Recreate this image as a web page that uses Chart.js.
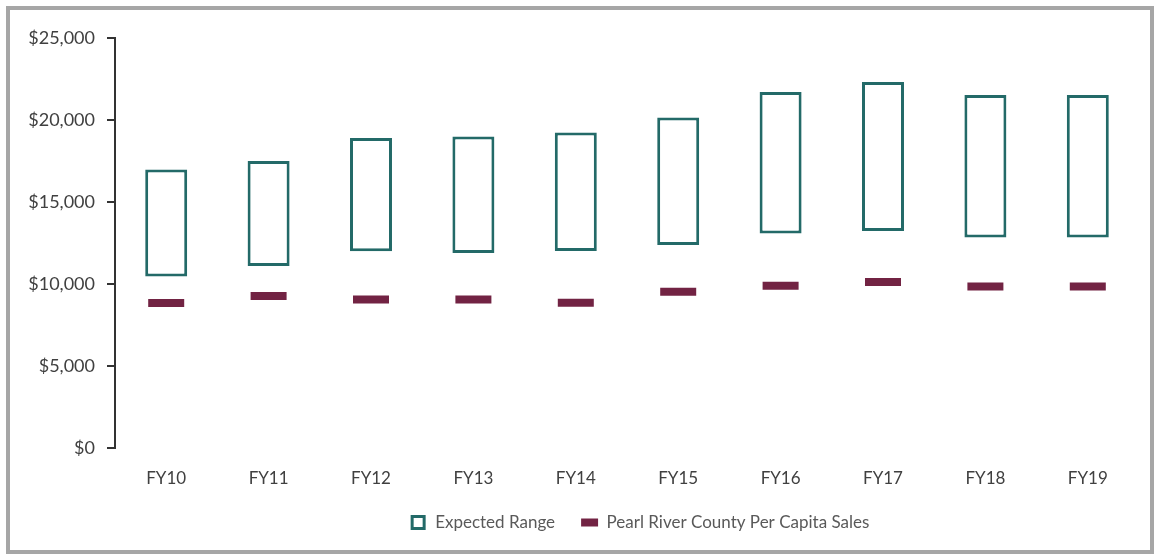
<!DOCTYPE html>
<html>
<head>
<meta charset="utf-8">
<script src="https://cdn.jsdelivr.net/npm/chart.js@4"></script>
<style>
  html, body { margin: 0; padding: 0; background: #fff; }
  #frame { position: absolute; left: 6px; top: 6px; width: 1140px; height: 540px; border: 4px solid #a6a6a6; }
  #wrap { position: absolute; left: 0; top: 0; width: 1159px; height: 557px; }
</style>
</head>
<body>
<div id="frame"></div>
<div id="wrap"><canvas id="myChart"></canvas></div>
<script>
const labels = ['FY10', 'FY11', 'FY12', 'FY13', 'FY14', 'FY15', 'FY16', 'FY17', 'FY18', 'FY19']
const rangeLow = [10450, 11100, 12000, 11890, 12010, 12380, 13080, 13230, 12830, 12830]
const rangeHigh = [16980, 17500, 18900, 19000, 19240, 20150, 21700, 22320, 21520, 21520]
const county = [8840, 9270, 9060, 9060, 8860, 9530, 9900, 10120, 9840, 9840]
const yTicks = [0, 5000, 10000, 15000, 20000, 25000]

const ranges = []
for (let i = 0; i <= labels.length - 1; i++) {
  ranges.push([rangeLow[i], rangeHigh[i]])
}

Chart.defaults.font.family = 'Lato, "Open Sans", sans-serif'
Chart.defaults.font.size = 17

// legend sits a bit right of the page centre in the original
const legendShift = {
  id: 'legendShift',
  afterLayout(chart) {
    chart.legend.left += 60
    chart.legend.right += 60
  }
}

const ctx = document.getElementById('myChart')
new Chart(ctx, {
  type: 'bar',
  plugins: [legendShift],
  data: {
    labels: labels,
    datasets: [{
      type: 'line',
      label: 'Pearl River County Per Capita Sales',
      data: county,
      showLine: false,
      borderColor: '#722343',
      backgroundColor: '#722343',
      borderWidth: 4,
      pointStyle: 'line',
      pointRadius: 18,
      pointBorderWidth: 8,
      pointHoverRadius: 18,
      order: 0
    }, {
      label: 'Expected Range',
      data: ranges,
      backgroundColor: '#ffffff',
      borderColor: '#236a68',
      borderWidth: 3,
      borderSkipped: false,
      pointStyle: 'rect',
      categoryPercentage: 1,
      barPercentage: 0.41,
      order: 1
    }]
  },
  options: {
    responsive: true,
    maintainAspectRatio: false,
    animation: false,
    layout: { autoPadding: false, padding: { left: 20, right: 20, top: 38, bottom: 16 } },
    plugins: {
      tooltip: { enabled: false },
      legend: {
        position: 'bottom',
        reverse: true,
        labels: {
          color: '#595959',
          usePointStyle: true,
          boxHeight: 12,
          padding: 26,
          font: { size: 17 }
        }
      }
    },
    scales: {
      x: {
        grid: { display: false },
        border: { display: false },
        afterFit: function (scale) {
          scale.height = 40
          scale.paddingLeft = 0
          scale.paddingRight = 0
        },
        ticks: { color: '#404040', padding: 12, font: { size: 17 } }
      },
      y: {
        min: 0,
        max: 25000,
        afterFit: function (scale) { scale.width = 95 },
        afterBuildTicks: function (scale) { scale.ticks = yTicks.map(v => ({ value: v })) },
        grid: { drawOnChartArea: false, drawTicks: true, tickLength: 8, color: '#333333', lineWidth: 2 },
        border: { display: true, color: '#333333', width: 2 },
        ticks: {
          color: '#404040',
          padding: 12,
          font: { size: 18 },
          callback: function (v) { return '$' + v.toLocaleString('en-US') }
        }
      }
    }
  }
})
</script>
</body>
</html>
